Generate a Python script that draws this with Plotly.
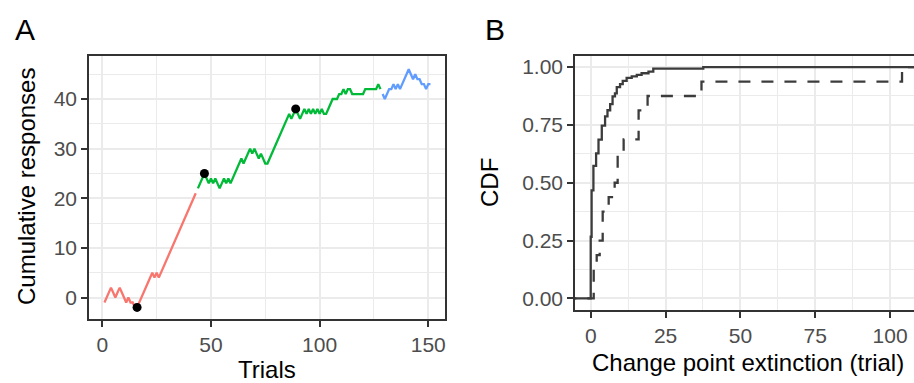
import plotly.graph_objects as go

# ---------------- data: panel A ----------------
red_start = 1
red_values = [-1, 0, 1, 2, 1, 0, 1, 2, 1, 0, -1, 0, -1, -1, -2, -2, -1, 0, 1, 2,
              3, 4, 5, 4, 5, 4, 5, 6, 7, 8, 9, 10, 11, 12, 13, 14, 15, 16, 17, 18,
              19, 20, 21]
green_start = 44
green_values = [22, 23, 24, 25, 24, 23, 24, 23, 24, 23, 22, 23, 24, 23, 24, 23, 24,
                25, 26, 27, 28, 27, 28, 29, 30, 29, 30, 29, 28, 29, 28, 27, 27, 28,
                29, 30, 31, 32, 33, 34, 35, 36, 37, 36, 37, 38, 37, 36, 37, 38, 37,
                38, 37, 38, 37, 38, 37, 38, 37, 37, 38, 39, 40, 40, 40, 41, 41, 42,
                41, 42, 42, 41, 41, 41, 41, 41, 41, 42, 42, 42, 42, 42, 42, 43, 42]
blue_start = 129
blue_values = [41, 40, 41, 42, 42, 43, 42, 43, 42, 43, 44, 45, 46, 45, 44, 45, 44,
               44, 43, 43, 42, 43, 43]
change_trials = [16, 47, 89]
change_values = [-2, 25, 38]

# ---------------- data: panel B ----------------
solid_values = [0, 0.3, 0.9, 1.8, 2.6, 3.7, 4.8, 5.6, 6.5, 7.3, 8.1, 8.7, 9.8,
                10.7, 12.0, 13.7, 15.4, 17.0, 19.3, 20.9, 37.6]
solid_counts = [40, 30, 16, 8, 9, 9, 6, 4, 4, 5, 2, 4, 2, 2, 2, 1, 1, 1, 1, 2, 1]
dashed_sample = [1, 1, 2, 3, 4, 4, 6, 8, 9, 9, 11, 16, 16, 19, 37, 104]

W, H = 914, 383
FONT = "Liberation Sans, Arial, Helvetica, sans-serif"
TICK_COL = "#4D4D4D"
GRID = "#EBEBEB"
BORDER = "#333333"


def px(x):
    return x / W


def py(y):
    return 1 - y / H


def seg_x(start, vals):
    return list(range(start, start + len(vals)))


def ecdf_from_counts(values, counts):
    n = sum(counts)
    xs, ys, c = [-1000], [0.0], 0
    for v, k in zip(values, counts):
        c += k
        xs.append(v)
        ys.append(c / n)
    xs.append(1000)
    ys.append(1.0)
    return xs, ys


def ecdf_from_sample(sample):
    s = sorted(sample)
    uniq = sorted(set(s))
    return ecdf_from_counts(uniq, [s.count(u) for u in uniq])


fig = go.Figure()

for start, vals, col in [(red_start, red_values, "#F8766D"),
                         (green_start, green_values, "#00BA38"),
                         (blue_start, blue_values, "#619CFF")]:
    fig.add_trace(go.Scatter(x=seg_x(start, vals), y=vals, mode="lines",
                             line=dict(color=col, width=2.3),
                             xaxis="x", yaxis="y", showlegend=False))

fig.add_trace(go.Scatter(x=change_trials, y=change_values, mode="markers",
                         marker=dict(color="black", size=9),
                         xaxis="x", yaxis="y", showlegend=False))

sx, sy = ecdf_from_counts(solid_values, solid_counts)
fig.add_trace(go.Scatter(x=sx, y=sy, mode="lines", line_shape="hv",
                         line=dict(color="#3C3C3C", width=2.3),
                         xaxis="x2", yaxis="y2", showlegend=False))
dx, dy = ecdf_from_sample(dashed_sample)
fig.add_trace(go.Scatter(x=dx, y=dy, mode="lines", line_shape="hv",
                         line=dict(color="#3C3C3C", width=2.3, dash="12px,11px"),
                         xaxis="x2", yaxis="y2", showlegend=False))

common = dict(showgrid=True, gridcolor=GRID, gridwidth=1.8, zeroline=False,
              showline=True, linecolor=BORDER, linewidth=1.6,
              ticks="outside", ticklen=6, tickwidth=1.6, tickcolor=BORDER,
              tickfont=dict(family=FONT, size=21, color=TICK_COL))

fig.update_layout(
    width=W, height=H, autosize=False,
    margin=dict(l=0, r=0, t=0, b=0),
    paper_bgcolor="white", plot_bgcolor="white",
    xaxis=dict(domain=[px(89), px(445)], range=[-6.12, 157.7],
               tickmode="array", tickvals=[0, 50, 100, 150], mirror=True,
               minor=dict(tickvals=[25, 75, 125], showgrid=True,
                          gridcolor=GRID, gridwidth=1, ticks=""),
               anchor="y", **common),
    yaxis=dict(domain=[py(319), py(55.5)], range=[-4.33, 48.77],
               tickmode="array", tickvals=[0, 10, 20, 30, 40], mirror=True,
               minor=dict(tickvals=[5, 15, 25, 35, 45], showgrid=True,
                          gridcolor=GRID, gridwidth=1, ticks=""),
               anchor="x", **common),
    xaxis2=dict(domain=[px(575), 1.0], range=[-5.25, 108.0],
                tickmode="array", tickvals=[0, 25, 50, 75, 100], mirror=True,
                minor=dict(tickvals=[12.5, 37.5, 62.5, 87.5], showgrid=True,
                           gridcolor=GRID, gridwidth=1, ticks=""),
                anchor="y2", **common),
    yaxis2=dict(domain=[py(310), py(55.5)], range=[-0.05, 1.05],
                tickmode="array", tickvals=[0, 0.25, 0.5, 0.75, 1.0],
                ticktext=["0.00", "0.25", "0.50", "0.75", "1.00"],
                minor=dict(tickvals=[0.125, 0.375, 0.625, 0.875], showgrid=True,
                           gridcolor=GRID, gridwidth=1, ticks=""),
                anchor="x2", **common),
)

ann = [
    dict(text="A", x=px(25), y=py(29), size=30),
    dict(text="B", x=px(495), y=py(29), size=30),
    dict(text="Trials", x=px(267), y=py(369), size=24),
    dict(text="Change point extinction (trial)", x=px(748), y=py(362), size=24),
    dict(text="Cumulative responses", x=px(26), y=py(187), size=24, angle=-90),
    dict(text="CDF", x=px(489), y=py(183), size=24, angle=-90),
]
for a in ann:
    fig.add_annotation(text=a["text"], x=a["x"], y=a["y"], xref="paper",
                       yref="paper", xanchor="center", yanchor="middle",
                       showarrow=False, textangle=a.get("angle", 0),
                       font=dict(family=FONT, size=a["size"], color="black"))

fig.write_html("out.html", config={"displayModeBar": False},
               post_script="document.body.style.margin='0px';"
                           "document.body.style.overflow='hidden';")
